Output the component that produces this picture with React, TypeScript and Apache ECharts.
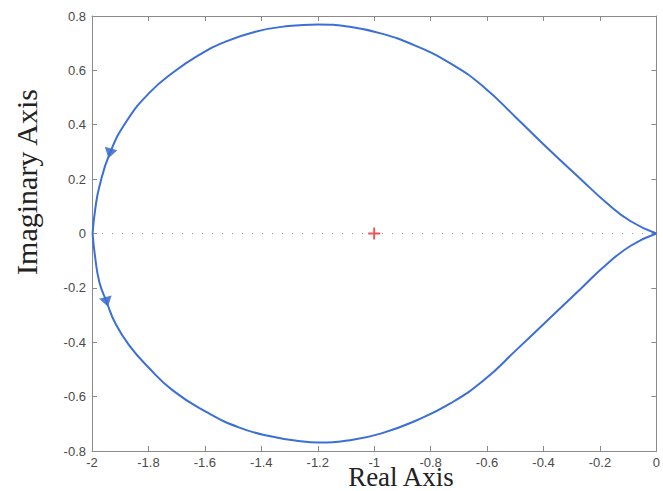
import React, { useEffect, useRef } from "react";
import * as echarts from "echarts";

const xTicks = [-2, -1.8, -1.6, -1.4, -1.2, -1, -0.8, -0.6, -0.4, -0.2, 0];
const yTicks = [-0.8, -0.6, -0.4, -0.2, 0, 0.2, 0.4, 0.6, 0.8];

const upperX = [0, -0.091, -0.179, -0.267, -0.379, -0.496, -0.613, -0.73, -0.859, -0.977, -1.093, -1.199, -1.304, -1.421, -1.54, -1.62, -1.708, -1.796, -1.877, -1.937, -1.974, -1.989, -1.998];
const upperY = [0, 0.045, 0.115, 0.199, 0.307, 0.425, 0.54, 0.626, 0.693, 0.736, 0.761, 0.769, 0.763, 0.742, 0.7, 0.657, 0.596, 0.518, 0.414, 0.295, 0.172, 0.086, 0];

const lowerX = [-1.998, -1.989, -1.974, -1.948, -1.916, -1.866, -1.803, -1.714, -1.597, -1.48, -1.363, -1.269, -1.199, -1.093, -0.977, -0.847, -0.73, -0.613, -0.496, -0.379, -0.267, -0.179, -0.091, 0];
const lowerY = [0, -0.086, -0.178, -0.252, -0.333, -0.414, -0.489, -0.577, -0.655, -0.713, -0.747, -0.763, -0.769, -0.761, -0.736, -0.686, -0.625, -0.541, -0.428, -0.313, -0.202, -0.116, -0.045, 0];

const arrowPoints = [
  { x: -1.937, y: 0.295, rot: 165 },
  { x: -1.948, y: -0.252, rot: 195 },
];
const criticalPoint = [-1, 0];
const zeroLineX = [-2, 0];

export default function App() {
  const ref = useRef<HTMLDivElement>(null);
  useEffect(() => {
    if (!ref.current) return;
    const chart = echarts.init(ref.current, null, { renderer: "svg" });
    const axisColor = "#8a8a8a";
    const labelStyle = {
      color: "#4a4a4a",
      fontFamily: "Liberation Sans, Arial, sans-serif",
      fontSize: 13,
    };
    const common = {
      type: "value" as const,
      splitLine: { show: false },
      axisLine: { show: true, onZero: false, lineStyle: { color: axisColor, width: 1 } },
      axisTick: { show: true, inside: true, length: 5, lineStyle: { color: axisColor } },
    };
    const fmt = (v: number) => String(Math.round(v * 10) / 10);
    chart.setOption({
      animation: false,
      backgroundColor: "#ffffff",
      grid: { left: 92, right: 2, top: 16, bottom: 40 },
      xAxis: [
        {
          ...common,
          position: "bottom",
          min: xTicks[0],
          max: xTicks[xTicks.length - 1],
          interval: 0.2,
          axisLabel: { ...labelStyle, margin: 5, formatter: fmt },
        },
        {
          ...common,
          position: "top",
          min: xTicks[0],
          max: xTicks[xTicks.length - 1],
          interval: 0.2,
          axisLabel: { show: false },
        },
      ],
      yAxis: [
        {
          ...common,
          position: "left",
          min: yTicks[0],
          max: yTicks[yTicks.length - 1],
          interval: 0.2,
          axisLabel: { ...labelStyle, margin: 6, formatter: fmt },
        },
        {
          ...common,
          position: "right",
          min: yTicks[0],
          max: yTicks[yTicks.length - 1],
          interval: 0.2,
          axisLabel: { show: false },
        },
      ],
      series: [
        {
          type: "line",
          data: zeroLineX.map((x) => [x, 0]),
          symbol: "none",
          lineStyle: { color: "#9a9a9a", width: 1, type: [1, 9] },
          silent: true,
        },
        {
          type: "line",
          data: upperX.map((x, i) => [x, upperY[i]]),
          symbol: "none",
          smooth: 0.5,
          lineStyle: { color: "#3c6fd6", width: 2 },
        },
        {
          type: "line",
          data: lowerX.map((x, i) => [x, lowerY[i]]),
          symbol: "none",
          smooth: 0.5,
          lineStyle: { color: "#3c6fd6", width: 2 },
        },
        {
          type: "scatter",
          data: arrowPoints.map((p) => ({ value: [p.x, p.y], symbolRotate: p.rot })),
          symbol: "triangle",
          symbolSize: [13, 10],
          itemStyle: { color: "#2d5fc4" },
        },
        {
          type: "scatter",
          data: [criticalPoint],
          symbol: "path://M4.2,0h1.6v10h-1.6z M0,4.2h10v1.6h-10z",
          symbolSize: 12,
          itemStyle: { color: "#e8272a" },
        },
      ],
      graphic: [
        {
          type: "text",
          x: 401,
          y: 477,
          style: {
            text: "Real Axis",
            fontFamily: "Liberation Serif, Times New Roman, serif",
            fontSize: 27,
            fill: "#222222",
            textAlign: "center",
            textVerticalAlign: "middle",
          },
        },
        {
          type: "text",
          x: 26,
          y: 182,
          rotation: Math.PI / 2,
          style: {
            text: "Imaginary Axis",
            fontFamily: "Liberation Serif, Times New Roman, serif",
            fontSize: 30,
            fill: "#222222",
            textAlign: "center",
            textVerticalAlign: "middle",
          },
        },
      ],
    });
    return () => chart.dispose();
  }, []);
  return (
    <div
      ref={ref}
      style={{ position: "fixed", left: 0, top: 0, width: 663, height: 491, background: "#fff" }}
    />
  );
}
